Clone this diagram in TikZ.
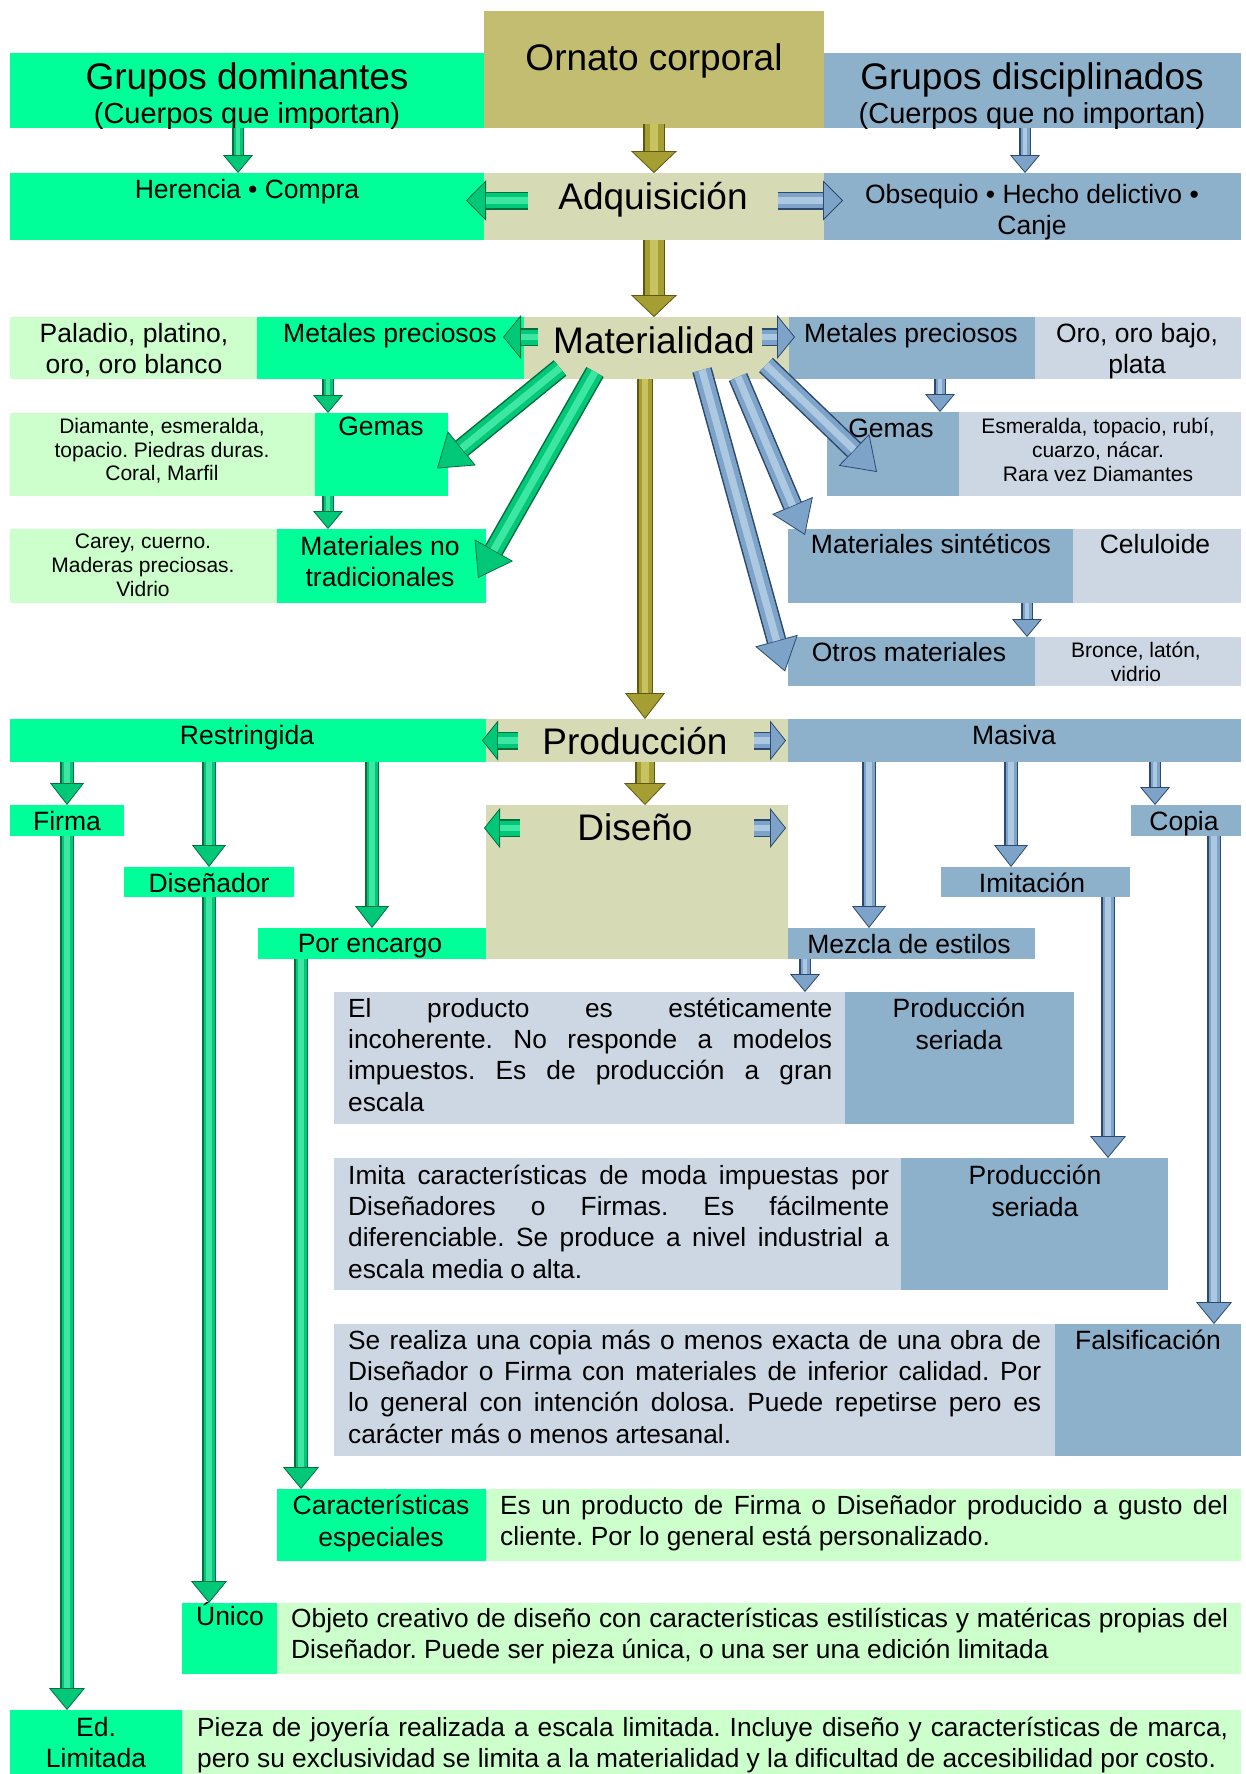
\documentclass[tikz,border=0pt]{standalone}
\usepackage{fontspec}
\setmainfont{Liberation Sans}
\usetikzlibrary{arrows.meta}
\usetikzlibrary{fit}
\usetikzlibrary{positioning}
\usepackage{xcolor}
\frenchspacing

\definecolor{gbox}{HTML}{00FF99}
\definecolor{lgbox}{HTML}{CCFFCC}
\definecolor{obox}{HTML}{C3BD71}
\definecolor{pbox}{HTML}{D6DAB5}
\definecolor{bbox}{HTML}{8DB0CB}
\definecolor{lbbox}{HTML}{CDD7E3}
\definecolor{gdk}{HTML}{00703F}
\definecolor{gmd}{HTML}{00C878}
\definecolor{glt}{HTML}{70FFC8}
\definecolor{odk}{HTML}{5C5812}
\definecolor{omd}{HTML}{A59E32}
\definecolor{olt}{HTML}{E6DF86}
\definecolor{bdk}{HTML}{2C4A70}
\definecolor{bmd}{HTML}{7EA3C8}
\definecolor{blt}{HTML}{D4E6F6}

\tikzset{
  box/.style={inner sep=0pt,outer sep=0pt},
  fatarrow/.style n args={6}{draw=#1, line width=#4,
    -{Triangle[width=#5,length=#6,line width=0.8pt,fill=#2]},
    postaction={draw=#2, line width=#4-3pt, -, shorten >=#6},
    postaction={draw=#2!45!#3, line width=0.36*#4, -, shorten >=#6}},
  garrow/.style n args={3}{fatarrow={gdk}{gmd}{glt}{#1}{#2}{#3}},
  oarrow/.style n args={3}{fatarrow={odk}{omd}{olt}{#1}{#2}{#3}},
  barrow/.style n args={3}{fatarrow={bdk}{bmd}{blt}{#1}{#2}{#3}},
  bigtxt/.style={font=\fontsize{37}{40}\selectfont, inner sep=0pt, anchor=north},
  cuerpostxt/.style={font=\fontsize{29}{32}\selectfont, inner sep=0pt, anchor=north},
  midtxt/.style={font=\fontsize{26.5}{31.5}\selectfont, inner sep=0pt, anchor=north, align=center},
  smltxt/.style={font=\fontsize{21}{23.7}\selectfont, inner sep=0pt, anchor=north, align=center},
  paratxt/.style={font=\fontsize{26.3}{31.2}\selectfont, inner sep=0pt, anchor=north west, align=justify, text width=#1},
}

\begin{document}
\begin{tikzpicture}[x=1pt,y=-1pt]
\path[fill=white,use as bounding box] (0,0) rectangle (1246,1774);

% boxes
\node[box,fill=obox,fit={(484,11) (824,128)}] (orn) {};
\node[box,fill=gbox,fit={(10,53) (484,128)}] (gdom) {};
\node[box,fill=bbox,fit={(824,53) (1241,128)}] (gdis) {};
\node[box,fill=gbox,fit={(10,173) (484,240)}] (her) {};
\node[box,fill=pbox,fit={(484,173) (824,240)}] (adq) {};
\node[box,fill=bbox,fit={(824,173) (1241,240)}] (obs) {};
\node[box,fill=lgbox,fit={(10,317) (257,379)}] (pal) {};
\node[box,fill=gbox,fit={(257,317) (524,379)}] (mpg) {};
\node[box,fill=pbox,fit={(524,317) (789,379)}] (mat) {};
\node[box,fill=bbox,fit={(789,317) (1035,379)}] (mpb) {};
\node[box,fill=lbbox,fit={(1035,317) (1241,379)}] (oro) {};
\node[box,fill=lgbox,fit={(10,413) (315,496)}] (dia) {};
\node[box,fill=gbox,fit={(315,413) (448,496)}] (gemg) {};
\node[box,fill=bbox,fit={(827,412) (959,496)}] (gemb) {};
\node[box,fill=lbbox,fit={(959,412) (1241,496)}] (esm) {};
\node[box,fill=lgbox,fit={(10,529) (277,603)}] (car) {};
\node[box,fill=gbox,fit={(277,529) (486,603)}] (mnt) {};
\node[box,fill=bbox,fit={(788,529) (1073,603)}] (sin) {};
\node[box,fill=lbbox,fit={(1073,529) (1241,603)}] (cel) {};
\node[box,fill=bbox,fit={(788,637) (1035,686)}] (oth) {};
\node[box,fill=lbbox,fit={(1035,637) (1241,686)}] (bro) {};
\node[box,fill=gbox,fit={(10,719) (486,762)}] (res) {};
\node[box,fill=pbox,fit={(486,719) (788,762)}] (prod) {};
\node[box,fill=bbox,fit={(788,719) (1241,762)}] (mas) {};
\node[box,fill=pbox,fit={(486,805) (788,959)}] (dis) {};
\node[box,fill=gbox,fit={(10,805) (124,836)}] (fir) {};
\node[box,fill=gbox,fit={(124,867) (294,897)}] (dsn) {};
\node[box,fill=gbox,fit={(258,928) (486,959)}] (enc) {};
\node[box,fill=bbox,fit={(788,928) (1035,959)}] (mez) {};
\node[box,fill=bbox,fit={(941,867) (1130,897)}] (imi) {};
\node[box,fill=bbox,fit={(1131,805) (1241,836)}] (cop) {};
\node[box,fill=lbbox,fit={(334,992) (845,1124)}] (p1) {};
\node[box,fill=bbox,fit={(845,992) (1074,1124)}] (ps1) {};
\node[box,fill=lbbox,fit={(334,1158) (901,1290)}] (p2) {};
\node[box,fill=bbox,fit={(901,1158) (1168,1290)}] (ps2) {};
\node[box,fill=lbbox,fit={(334,1324) (1055,1456)}] (p3) {};
\node[box,fill=bbox,fit={(1055,1324) (1241,1456)}] (fal) {};
\node[box,fill=gbox,fit={(277,1489) (486,1561)}] (cae) {};
\node[box,fill=lgbox,fit={(486,1489) (1241,1561)}] (cad) {};
\node[box,fill=gbox,fit={(182,1603) (277,1674)}] (uni) {};
\node[box,fill=lgbox,fit={(277,1603) (1241,1674)}] (unid) {};
\node[box,fill=gbox,fit={(10,1710) (182,1774)}] (edl) {};
\node[box,fill=lgbox,fit={(182,1710) (1241,1774)}] (edld) {};

% texts
\node[bigtxt] (ornt) at (654,43) {Ornato corporal};
\node[bigtxt] (gdomt) at (247,62) {Grupos dominantes};
\node[cuerpostxt] (gdomc) at (247,102.5) {(Cuerpos que importan)};
\node[bigtxt] (gdist) at (1032,62) {Grupos disciplinados};
\node[cuerpostxt] (gdisc) at (1032,102.5) {(Cuerpos que no importan)};
\node[midtxt] (hert) at (247,179) {Herencia • Compra};
\node[bigtxt] (adqt) at (653,182) {Adquisición};
\node[midtxt] (obst) at (1032,184) {Obsequio • Hecho delictivo •\\Canje};
\node[midtxt] (palt) at (134,323) {Paladio, platino,\\oro, oro blanco};
\node[midtxt] (mpgt) at (390,323) {Metales preciosos};
\node[bigtxt] (matt) at (654,326) {Materialidad};
\node[midtxt] (mpbt) at (911,323) {Metales preciosos};
\node[midtxt] (orot) at (1137,323) {Oro, oro bajo,\\plata};
\node[smltxt] (diat) at (162,418) {Diamante, esmeralda,\\topacio. Piedras duras.\\Coral, Marfil};
\node[midtxt] (gemgt) at (381,417) {Gemas};
\node[midtxt] (gembt) at (891,419) {Gemas};
\node[smltxt] (esmt) at (1098,418) {Esmeralda, topacio, rubí,\\cuarzo, nácar.\\Rara vez Diamantes};
\node[smltxt] (cart) at (143,534) {Carey, cuerno.\\Maderas preciosas.\\Vidrio};
\node[midtxt] (mntt) at (380,536) {Materiales no\\tradicionales};
\node[midtxt] (sint) at (931,534) {Materiales sintéticos};
\node[midtxt] (celt) at (1155,534) {Celuloide};
\node[midtxt] (otht) at (909,642) {Otros materiales};
\node[smltxt] (brot) at (1136,642) {Bronce, latón,\\vidrio};
\node[midtxt] (rest) at (247,725) {Restringida};
\node[bigtxt] (prodt) at (635,727) {Producción};
\node[midtxt] (mast) at (1014,725) {Masiva};
\node[bigtxt] (dist) at (635,813) {Diseño};
\node[midtxt] (firt) at (67,811) {Firma};
\node[midtxt] (dsnt) at (209,873) {Diseñador};
\node[midtxt] (enct) at (370,934) {Por encargo};
\node[midtxt] (mezt) at (909,934) {Mezcla de estilos};
\node[midtxt] (imit) at (1032,873) {Imitación};
\node[midtxt] (copt) at (1184,811) {Copia};
\node[paratxt=484pt] (p1t) at (348,998) {El producto es estéticamente\linebreak incoherente. No responde a modelos\linebreak impuestos. Es de producción a gran\linebreak escala};
\node[midtxt] (ps1t) at (959,998) {Producción\\seriada};
\node[paratxt=541pt] (p2t) at (348,1165) {Imita características de moda impuestas por\linebreak Diseñadores o Firmas. Es fácilmente\linebreak diferenciable. Se produce a nivel industrial a\linebreak escala media o alta.};
\node[midtxt] (ps2t) at (1035,1165) {Producción\\seriada};
\node[paratxt=693pt] (p3t) at (348,1330) {Se realiza una copia más o menos exacta de una obra de\linebreak Diseñador o Firma con materiales de inferior calidad. Por\linebreak lo general con intención dolosa. Puede repetirse pero es\linebreak carácter más o menos artesanal.};
\node[midtxt] (falt) at (1148,1330) {Falsificación};
\node[midtxt] (caet) at (381,1495) {Características\\especiales};
\node[paratxt=728pt] (cadt) at (500,1495) {Es un producto de Firma o Diseñador producido a gusto del\linebreak cliente. Por lo general está personalizado.};
\node[midtxt] (unit) at (230,1602) {Único};
\node[paratxt=937pt] (unidt) at (291,1608) {Objeto creativo de diseño con características estilísticas y matéricas propias del\linebreak Diseñador. Puede ser pieza única, o una ser una edición limitada};
\node[midtxt] (edlt) at (96,1717) {Ed.\\Limitada};
\node[paratxt=1031pt] (edldt) at (197,1717) {Pieza de joyería realizada a escala limitada. Incluye diseño y características de marca,\linebreak pero su exclusividad se limita a la materialidad y la dificultad de accesibilidad por costo.};

% guides for the arrows
\coordinate (xg0) at (238,0);
\coordinate (xb0) at (1025,0);
\coordinate (xg1) at (328,0);
\coordinate (xb1) at (940,0);
\coordinate (xb2) at (1027,0);
\coordinate (xc) at (645,0);
\coordinate (xb3) at (869,0);
\coordinate (xb4) at (1011,0);
\coordinate (xb5) at (1155,0);
\coordinate (xg2) at (301,0);
\coordinate (xb6) at (1108,0);
\coordinate (xb7) at (1214,0);
\coordinate (xb8) at (805,0);

% adquisicion
\draw[oarrow={22pt}{46pt}{22pt}] ([yshift=4pt]orn.south) -- (adq.north);
\draw[garrow={12pt}{30pt}{18pt}] (xg0 |- gdom.south) -- (xg0 |- her.north);
\draw[barrow={12pt}{30pt}{18pt}] (xb0 |- gdis.south) -- (xb0 |- obs.north);
\draw[garrow={18pt}{40pt}{20pt}] ([xshift=44pt,yshift=6pt]adq.west) -- ([xshift=-18pt,yshift=6pt]adq.west);
\draw[barrow={18pt}{40pt}{20pt}] ([xshift=-46pt,yshift=6pt]adq.east) -- ([xshift=19pt,yshift=6pt]adq.east);
\draw[oarrow={22pt}{46pt}{22pt}] (adq.south) -- (adq.south |- mat.north);

% materialidad
\draw[garrow={18pt}{44pt}{18pt}] ([xshift=14pt,yshift=11pt]mat.west) -- ([xshift=-21pt,yshift=11pt]mat.west);
\draw[barrow={18pt}{44pt}{18pt}] ([xshift=-27pt,yshift=11pt]mat.east) -- ([xshift=6pt,yshift=11pt]mat.east);
\draw[garrow={12pt}{30pt}{18pt}] (xg1 |- mpg.south) -- (xg1 |- gemg.north);
\draw[garrow={12pt}{30pt}{18pt}] (xg1 |- gemg.south) -- (xg1 |- mnt.north);
\draw[barrow={12pt}{30pt}{18pt}] (xb1 |- mpb.south) -- (xb1 |- gemb.north);
\draw[barrow={12pt}{30pt}{18pt}] (xb2 |- sin.south) -- (xb2 |- oth.north);
\draw[garrow={20pt}{44pt}{32pt}] ([xshift=36pt,yshift=11pt]mat.south west) -- ([xshift=-11pt,yshift=-14pt]gemg.east);
\draw[garrow={20pt}{44pt}{32pt}] ([xshift=71pt,yshift=7pt]mat.south west) -- ([xshift=-8pt,yshift=-12pt]mnt.east);
\draw[barrow={20pt}{44pt}{32pt}] ([xshift=178pt,yshift=9pt]mat.south west) -- ([xshift=-3pt,yshift=-10pt]oth.west);
\draw[barrow={20pt}{44pt}{32pt}] ([xshift=214pt,yshift=2pt]mat.south west) -- ([xshift=17pt,yshift=-6pt]sin.north west);
\draw[barrow={20pt}{44pt}{32pt}] ([xshift=242pt,yshift=14pt]mat.south west) -- ([xshift=-16pt,yshift=-18pt]gemb.center);
\draw[oarrow={16pt}{40pt}{26pt}] (xc |- mat.south) -- (xc |- prod.north);

% produccion
\draw[garrow={18pt}{40pt}{16pt}] ([xshift=32pt]prod.west) -- ([xshift=-4pt]prod.west);
\draw[barrow={18pt}{40pt}{16pt}] ([xshift=-34pt]prod.east) -- ([xshift=-2pt]prod.east);
\draw[oarrow={20pt}{42pt}{22pt}] (xc |- prod.south) -- (xc |- dis.north);
\draw[garrow={18pt}{40pt}{16pt}] ([xshift=34pt,yshift=-23pt]dis.north west) -- ([xshift=-2pt,yshift=-23pt]dis.north west);
\draw[barrow={18pt}{40pt}{16pt}] ([xshift=-34pt,yshift=-23pt]dis.north east) -- ([xshift=-2pt,yshift=-23pt]dis.north east);
\draw[garrow={14pt}{34pt}{22pt}] (fir.north |- res.south) -- (fir.north);
\draw[garrow={14pt}{34pt}{22pt}] (dsn.north |- res.south) -- (dsn.north);
\draw[garrow={14pt}{34pt}{22pt}] (enc.north |- res.south) -- (enc.north);
\draw[barrow={14pt}{34pt}{22pt}] (xb3 |- mas.south) -- (xb3 |- mez.north);
\draw[barrow={14pt}{34pt}{22pt}] (xb4 |- mas.south) -- (xb4 |- imi.north);
\draw[barrow={12pt}{30pt}{18pt}] (xb5 |- mas.south) -- (xb5 |- cop.north);

% long ones
\draw[garrow={14pt}{36pt}{22pt}] (fir.south) -- (fir.south |- edl.north);
\draw[garrow={14pt}{36pt}{22pt}] (dsn.south) -- (dsn.south |- uni.north);
\draw[garrow={14pt}{36pt}{22pt}] (xg2 |- enc.south) -- (xg2 |- cae.north);
\draw[barrow={14pt}{36pt}{22pt}] (xb6 |- imi.south) -- (xb6 |- ps2.north);
\draw[barrow={14pt}{36pt}{22pt}] (xb7 |- cop.south) -- (xb7 |- fal.north);
\draw[barrow={12pt}{30pt}{18pt}] (xb8 |- mez.south) -- (xb8 |- p1.north);
\end{tikzpicture}
\end{document}
